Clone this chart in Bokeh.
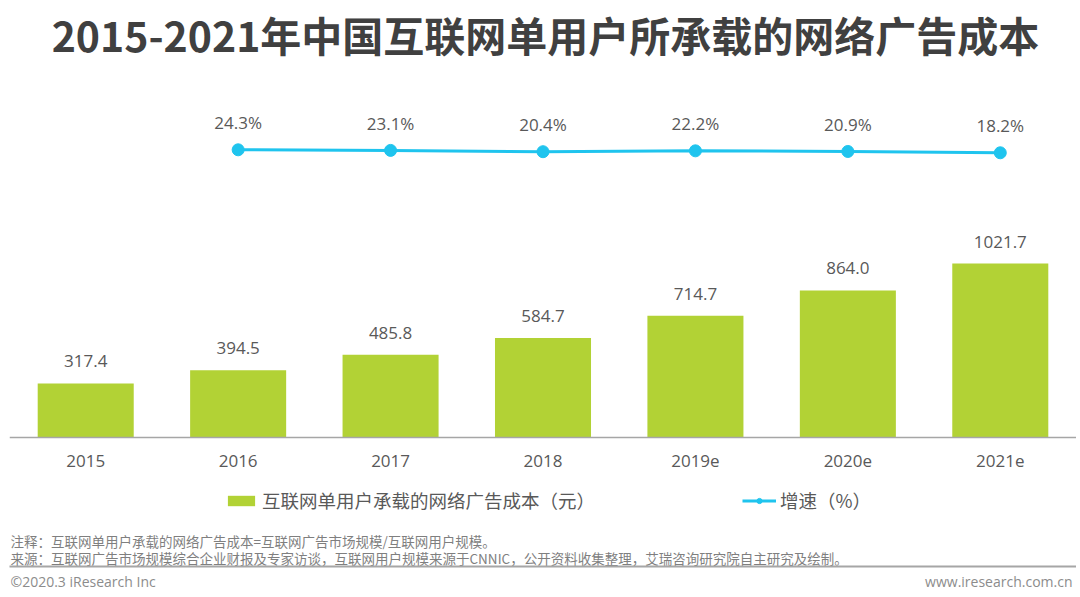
from bokeh.plotting import figure
from bokeh.models import (ColumnDataSource, FactorRange, Range1d, LabelSet, Label,
                          Legend, LegendItem, BoxAnnotation)
from bokeh.embed import file_html
from bokeh.resources import INLINE
from bokeh.core.properties import value

# ---- data ----
years = ["2015", "2016", "2017", "2018", "2019e", "2020e", "2021e"]
cost = [317.4, 394.5, 485.8, 584.7, 714.7, 864.0, 1021.7]
growth_years = ["2016", "2017", "2018", "2019e", "2020e", "2021e"]
growth = [24.3, 23.1, 20.4, 22.2, 20.9, 18.2]

title_text = "2015-2021年中国互联网单用户所承载的网络广告成本"
bar_name = "互联网单用户承载的网络广告成本（元）"
line_name = "增速（%）"
note1 = "注释：互联网单用户承载的网络广告成本=互联网广告市场规模/互联网用户规模。"
note2 = "来源：互联网广告市场规模综合企业财报及专家访谈，互联网用户规模来源于CNNIC，公开资料收集整理，艾瑞咨询研究院自主研究及绘制。"
footer_left = "©2020.3 iResearch Inc"
footer_right = "www.iresearch.com.cn"

cost_labels = [f"{v:.1f}" for v in cost]
growth_labels = [f"{v:.1f}%" for v in growth]

GREEN = "#b2d235"
CYAN = "#1fc4ee"
TXT = "#595959"
CJK = "Noto Sans CJK SC"

bar_src = ColumnDataSource(dict(year=years, cost=cost, lab=cost_labels))
line_src = ColumnDataSource(dict(year=growth_years, g=growth, lab=growth_labels))

W, H = 1076, 593
p = figure(width=W, height=H,
           x_range=FactorRange(*years),
           y_range=Range1d(-916.6, 2567.6),
           output_backend="svg", toolbar_location=None, y_axis_location=None,
           min_border_left=9, min_border_right=0, min_border_top=0, min_border_bottom=0)
p.extra_y_ranges = {"g": Range1d(-881.2, 329.0)}

p.outline_line_color = None
p.xgrid.visible = False
p.ygrid.visible = False
p.background_fill_color = "white"
p.border_fill_color = "white"

bars = p.vbar(x="year", top="cost", bottom=0, width=0.63, source=bar_src,
              fill_color=GREEN, line_color=None)
ln = p.line(x="year", y="g", source=line_src, y_range_name="g",
            line_color=CYAN, line_width=3)
dots = p.scatter(x="year", y="g", source=line_src, y_range_name="g",
                 size=12, fill_color=CYAN, line_color=CYAN)

p.add_layout(LabelSet(x="year", y="cost", text="lab", source=bar_src,
                      text_align="center", text_baseline="middle", y_offset=22,
                      text_font=value("Open Sans"), text_font_size=value("17px"),
                      text_color=TXT))
p.add_layout(LabelSet(x="year", y="g", text="lab", source=line_src, y_range_name="g",
                      text_align="center", text_baseline="middle", y_offset=27,
                      text_font=value("Open Sans"), text_font_size=value("17px"),
                      text_color=TXT))

ax = p.xaxis[0]
ax.fixed_location = 0
ax.axis_line_color = "#a6a6a6"
ax.axis_line_width = 1.5
ax.major_tick_line_color = None
ax.minor_tick_line_color = None
ax.major_tick_out = 0
ax.major_tick_in = 0
ax.major_label_standoff = 18
ax.major_label_text_font = "Open Sans"
ax.major_label_text_font_size = "17px"
ax.major_label_text_color = TXT

legend = Legend(items=[LegendItem(label=bar_name, renderers=[bars]),
                       LegendItem(label=line_name, renderers=[ln, dots])],
                location=(215, 80), orientation="horizontal",
                border_line_color=None, background_fill_alpha=0,
                padding=0, margin=0, spacing=147, label_standoff=4,
                glyph_width=34, glyph_height=13,
                label_text_font=CJK, label_text_font_size="18.5px",
                label_text_color=TXT)
p.add_layout(legend)


# screen coords relative to frame: left edge = image x 9, bottom edge = image y 593
def lab(x, y, text, size, color, font, align="left", bold=False):
    return Label(x=x - 9, y=593 - y, x_units="screen", y_units="screen", text=text,
                 text_align=align, text_baseline="middle", text_font=font,
                 text_font_size=size, text_color=color,
                 text_font_style="bold" if bold else "normal")


p.add_layout(lab(545, 33, title_text, "41px", "#404040", CJK, "center", True))
p.add_layout(lab(10, 540, note1, "13.5px", "#7f7f7f", CJK))
p.add_layout(lab(10, 557, note2, "13.5px", "#7f7f7f", CJK))
p.add_layout(BoxAnnotation(left=-1, right=1067, top=593 - 565, bottom=593 - 567,
                           left_units="screen", right_units="screen",
                           top_units="screen", bottom_units="screen",
                           fill_color="#a6a6a6", fill_alpha=1, line_color=None))
p.add_layout(lab(10, 581, footer_left, "14px", "#8c8c8c", "Open Sans"))
p.add_layout(lab(1072, 581, footer_right, "14px", "#8c8c8c", "Open Sans", "right"))

open("out.html", "w").write(file_html(p, INLINE))
